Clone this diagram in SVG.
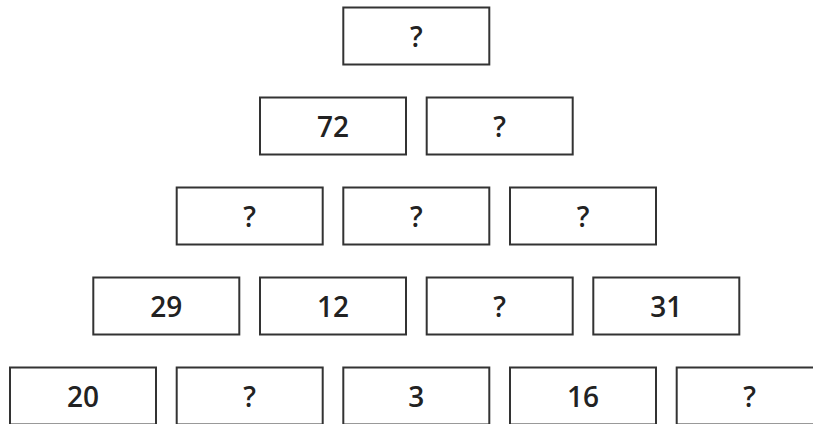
<svg xmlns="http://www.w3.org/2000/svg" width="813" height="424" viewBox="0 0 813 424">
<style>
.b{fill:#fff;stroke:#333;stroke-width:2}
.t{font-family:"Open Sans","DejaVu Sans",sans-serif;font-size:28px;font-weight:600;fill:#222;text-anchor:middle;dominant-baseline:central}
</style>
<rect width="813" height="424" fill="#fff"/>
<g id="n1"><rect class="b" x="343.3" y="7.5" width="146" height="57"/><text class="t" x="416.3" y="36">?</text></g>
<g id="n2"><rect class="b" x="260" y="97.5" width="146" height="57"/><text class="t" x="333" y="126">72</text></g>
<g id="n3"><rect class="b" x="426.7" y="97.5" width="146" height="57"/><text class="t" x="499.7" y="126">?</text></g>
<g id="n4"><rect class="b" x="176.7" y="187.5" width="146" height="57"/><text class="t" x="249.7" y="216">?</text></g>
<g id="n5"><rect class="b" x="343.3" y="187.5" width="146" height="57"/><text class="t" x="416.3" y="216">?</text></g>
<g id="n6"><rect class="b" x="510" y="187.5" width="146" height="57"/><text class="t" x="583" y="216">?</text></g>
<g id="n7"><rect class="b" x="93.3" y="277.5" width="146" height="57"/><text class="t" x="166.3" y="306">29</text></g>
<g id="n8"><rect class="b" x="260" y="277.5" width="146" height="57"/><text class="t" x="333" y="306">12</text></g>
<g id="n9"><rect class="b" x="426.7" y="277.5" width="146" height="57"/><text class="t" x="499.7" y="306">?</text></g>
<g id="n10"><rect class="b" x="593.3" y="277.5" width="146" height="57"/><text class="t" x="666.3" y="306">31</text></g>
<g id="n11"><rect class="b" x="10" y="367.5" width="146" height="57"/><text class="t" x="83" y="396">20</text></g>
<g id="n12"><rect class="b" x="176.7" y="367.5" width="146" height="57"/><text class="t" x="249.7" y="396">?</text></g>
<g id="n13"><rect class="b" x="343.3" y="367.5" width="146" height="57"/><text class="t" x="416.3" y="396">3</text></g>
<g id="n14"><rect class="b" x="510" y="367.5" width="146" height="57"/><text class="t" x="583" y="396">16</text></g>
<g id="n15"><rect class="b" x="676.7" y="367.5" width="146" height="57"/><text class="t" x="749.7" y="396">?</text></g>
<g id="connectors"></g>
</svg>
